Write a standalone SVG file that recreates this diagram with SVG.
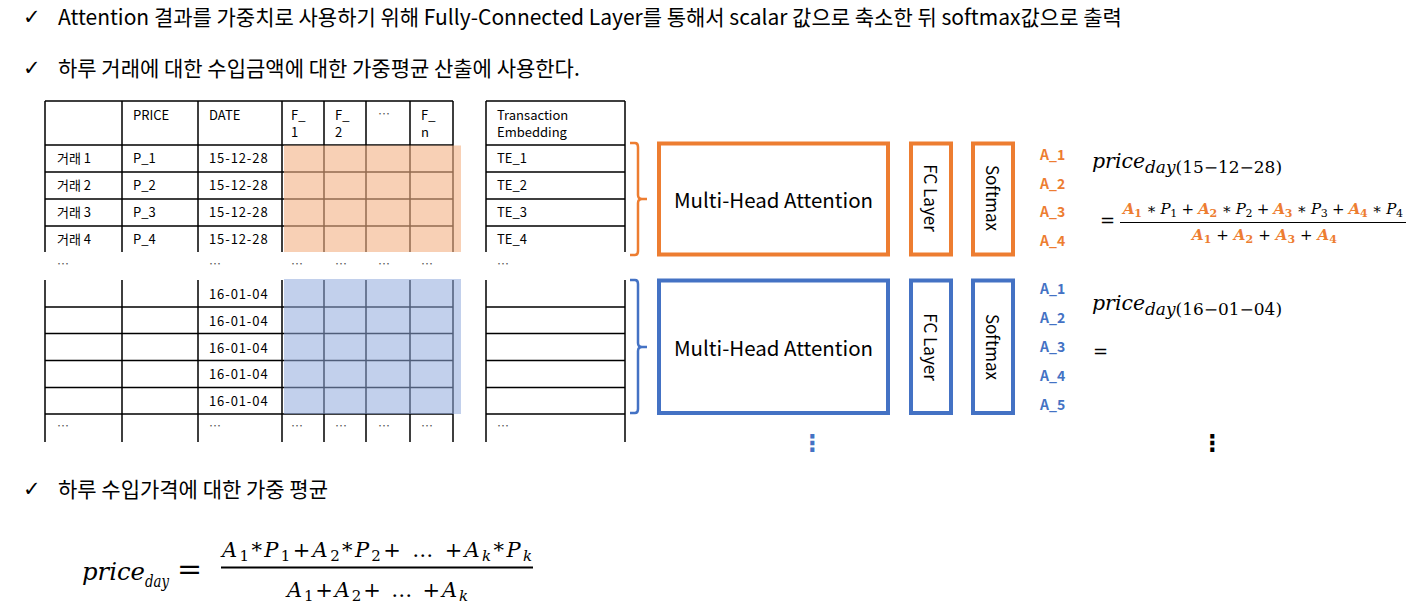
<svg xmlns="http://www.w3.org/2000/svg" width="1410" height="605" viewBox="0 0 1410 605">
<style>
.t{font-family:"Noto Sans CJK KR","Noto Sans",sans-serif;fill:#000}
.h{font-size:21px}
.ck{font-family:"DejaVu Sans",sans-serif;font-size:21px}
.c{font-size:13px}
.dt{letter-spacing:0.9px}
.d{font-size:12px;fill:#555}
.g{stroke:#000;stroke-width:1.5;fill:none}
.ob{fill:none;stroke:#ED7D31;stroke-width:4}
.bb{fill:none;stroke:#4472C4;stroke-width:4}
.lbl{font-size:20.5px;text-anchor:middle;dominant-baseline:central}
.rl{font-size:17px;text-anchor:middle;dominant-baseline:central}
.ao{font-size:14px;font-weight:bold;fill:#ED7D31}
.ab{font-size:14px;font-weight:bold;fill:#4472C4}
.m{font-family:"DejaVu Serif","Liberation Serif",serif;fill:#000}
.i{font-style:italic}
.oA{fill:#ED7D31;font-weight:bold;font-style:italic}
.oS{fill:#ED7D31;font-weight:bold}
</style>
<rect width="1410" height="605" fill="#fff"/>

<g id="header-text">
<text class="ck" x="23" y="24">✓</text>
<text class="t h" x="58" y="24.5">Attention 결과를 가중치로 사용하기 위해 Fully-Connected Layer를 통해서 scalar 값으로 축소한 뒤 softmax값으로 출력</text>
<text class="ck" x="23" y="75">✓</text>
<text class="t h" x="58" y="75.5">하루 거래에 대한 수입금액에 대한 가중평균 산출에 사용한다.</text>
<text class="ck" x="23" y="496">✓</text>
<text class="t h" x="58" y="496.5">하루 수입가격에 대한 가중 평균</text>
</g>

<g id="table-top">
<path class="g" d="M45 101H453M45 145H453M45 172H453M45 199H453M45 226H453M45 101V252M122 101V252M198 101V252M282 101V252M324 101V252M366 101V252M410 101V252M453 101V252"/>
<rect x="284" y="145.5" width="177" height="106.5" fill="#F4B183" opacity="0.6"/>
<g class="t c">
<text x="133" y="120">PRICE</text><text x="209" y="120">DATE</text>
<text x="291" y="119.5">F_</text><text x="291" y="137">1</text>
<text x="335" y="119.5">F_</text><text x="335" y="137">2</text>
<text x="378" y="119" class="d">…</text>
<text x="421" y="119.5">F_</text><text x="421" y="137">n</text>
<text x="57" y="163">거래 1</text><text x="133" y="163">P_1</text><text class="dt" x="209" y="163">15-12-28</text>
<text x="57" y="190">거래 2</text><text x="133" y="190">P_2</text><text class="dt" x="209" y="190">15-12-28</text>
<text x="57" y="217">거래 3</text><text x="133" y="217">P_3</text><text class="dt" x="209" y="217">15-12-28</text>
<text x="57" y="244">거래 4</text><text x="133" y="244">P_4</text><text class="dt" x="209" y="244">15-12-28</text>
</g>
<g class="t d">
<text x="57" y="269">…</text><text x="209" y="269">…</text><text x="291" y="269">…</text><text x="335" y="269">…</text><text x="378" y="269">…</text><text x="421" y="269">…</text>
</g>
</g>

<g id="embedding-top">
<path class="g" d="M486 101H625M486 145H625M486 172H625M486 199H625M486 226H625M486 101V252M625 101V252"/>
<g class="t c">
<text x="497" y="119.5">Transaction</text><text x="497" y="136.5">Embedding</text>
<text x="497" y="163">TE_1</text><text x="497" y="190">TE_2</text><text x="497" y="217">TE_3</text><text x="497" y="244">TE_4</text>
</g>
<text class="t d" x="497" y="269">…</text>
</g>

<g id="table-bottom">
<path class="g" d="M45 307H453M45 333.5H453M45 360.5H453M45 387.5H453M45 414H453M45 280V442M122 280V442M198 280V442M282 280V442M324 280V442M366 280V442M410 280V442M453 280V442"/>
<rect x="284" y="279" width="177" height="135" fill="#8FAADC" opacity="0.55"/>
<g class="t c dt">
<text x="209" y="299">16-01-04</text><text x="209" y="325.5">16-01-04</text><text x="209" y="352.5">16-01-04</text><text x="209" y="379">16-01-04</text><text x="209" y="405.5">16-01-04</text>
</g>
<g class="t d">
<text x="57" y="431">…</text><text x="209" y="431">…</text><text x="291" y="431">…</text><text x="335" y="431">…</text><text x="378" y="431">…</text><text x="421" y="431">…</text>
</g>
</g>

<g id="embedding-bottom">
<path class="g" d="M486 307H625M486 333.5H625M486 360.5H625M486 387.5H625M486 414H625M486 280V442M625 280V442"/>
<text class="t d" x="497" y="431">…</text>
</g>

<g id="connectors">
<path d="M630 143H635Q638 143 638 147V195Q638 199 642 199H647M642 199Q638 199 638 203V251Q638 255 635 255H630" fill="none" stroke="#ED7D31" stroke-width="2.5"/>
<path d="M630 280H635Q638 280 638 284V343Q638 347 642 347H647M642 347Q638 347 638 351V409Q638 413 635 413H630" fill="none" stroke="#4472C4" stroke-width="2.5"/>
</g>

<g id="mha-orange"><rect class="ob" x="659" y="143.5" width="229" height="111"/><text class="t lbl" x="773.5" y="199">Multi-Head Attention</text></g>
<g id="fc-orange"><rect class="ob" x="911" y="143.5" width="40" height="111"/><text class="t rl" x="931" y="198" transform="rotate(90 931 198)">FC Layer</text></g>
<g id="softmax-orange"><rect class="ob" x="973" y="143.5" width="40" height="111"/><text class="t rl" x="993" y="198" transform="rotate(90 993 198)">Softmax</text></g>

<g id="mha-blue"><rect class="bb" x="659" y="280.5" width="229" height="132.5"/><text class="t lbl" x="773.5" y="347">Multi-Head Attention</text></g>
<g id="fc-blue"><rect class="bb" x="911" y="280.5" width="40" height="132.5"/><text class="t rl" x="931" y="347" transform="rotate(90 931 347)">FC Layer</text></g>
<g id="softmax-blue"><rect class="bb" x="973" y="280.5" width="40" height="132.5"/><text class="t rl" x="993" y="347" transform="rotate(90 993 347)">Softmax</text></g>

<g id="weights-orange" class="t">
<text class="ao" x="1040" y="160">A_1</text><text class="ao" x="1040" y="189">A_2</text><text class="ao" x="1040" y="217">A_3</text><text class="ao" x="1040" y="246">A_4</text>
</g>
<g id="weights-blue" class="t">
<text class="ab" x="1040" y="294">A_1</text><text class="ab" x="1040" y="323">A_2</text><text class="ab" x="1040" y="352">A_3</text><text class="ab" x="1040" y="381">A_4</text><text class="ab" x="1040" y="410">A_5</text>
</g>

<g id="formula-orange" class="m">
<text class="i" x="1092" y="168" font-size="20" textLength="53" lengthAdjust="spacingAndGlyphs">price</text>
<text x="1145" y="173" font-size="16" textLength="137" lengthAdjust="spacingAndGlyphs"><tspan class="i">day</tspan>(15−12−28)</text>
<text x="1100" y="227" font-size="18">=</text>
<line x1="1120" y1="222.5" x2="1406" y2="222.5" stroke="#000" stroke-width="1.2"/>
<text x="1123" y="214" font-size="15" textLength="280" lengthAdjust="spacing"><tspan class="oA">A</tspan><tspan class="oS" font-size="11" dy="3">1</tspan><tspan dy="-3"> ∗ </tspan><tspan class="i">P</tspan><tspan font-size="11" dy="3">1</tspan><tspan dy="-3"> + </tspan><tspan class="oA">A</tspan><tspan class="oS" font-size="11" dy="3">2</tspan><tspan dy="-3"> ∗ </tspan><tspan class="i">P</tspan><tspan font-size="11" dy="3">2</tspan><tspan dy="-3"> + </tspan><tspan class="oA">A</tspan><tspan class="oS" font-size="11" dy="3">3</tspan><tspan dy="-3"> ∗ </tspan><tspan class="i">P</tspan><tspan font-size="11" dy="3">3</tspan><tspan dy="-3"> + </tspan><tspan class="oA">A</tspan><tspan class="oS" font-size="11" dy="3">4</tspan><tspan dy="-3"> ∗ </tspan><tspan class="i">P</tspan><tspan font-size="11" dy="3">4</tspan></text>
<text x="1192" y="240" font-size="15" textLength="145" lengthAdjust="spacing"><tspan class="oA">A</tspan><tspan class="oS" font-size="11" dy="3">1</tspan><tspan dy="-3"> + </tspan><tspan class="oA">A</tspan><tspan class="oS" font-size="11" dy="3">2</tspan><tspan dy="-3"> + </tspan><tspan class="oA">A</tspan><tspan class="oS" font-size="11" dy="3">3</tspan><tspan dy="-3"> + </tspan><tspan class="oA">A</tspan><tspan class="oS" font-size="11" dy="3">4</tspan></text>
</g>

<g id="formula-blue" class="m">
<text class="i" x="1092" y="310" font-size="20" textLength="53" lengthAdjust="spacingAndGlyphs">price</text>
<text x="1145" y="315" font-size="16" textLength="137" lengthAdjust="spacingAndGlyphs"><tspan class="i">day</tspan>(16−01−04)</text>
<text x="1093" y="358" font-size="18">=</text>
</g>

<g id="ellipsis">
<text x="812.5" y="451" font-family="DejaVu Sans,sans-serif" font-size="23" font-weight="bold" fill="#4472C4" text-anchor="middle">⋮</text>
<text x="1212.5" y="451" font-family="DejaVu Sans,sans-serif" font-size="23" font-weight="bold" fill="#000" text-anchor="middle">⋮</text>
</g>

<g id="formula-general" class="m">
<text class="i" x="82" y="580" font-size="24" textLength="63" lengthAdjust="spacingAndGlyphs">price</text>
<text class="i" x="145" y="587" font-size="17" textLength="24" lengthAdjust="spacingAndGlyphs">day</text>
<text x="177" y="579" font-size="30">=</text>
<line x1="221" y1="567.5" x2="533" y2="567.5" stroke="#000" stroke-width="2"/>
<text x="222" y="557" font-size="21" textLength="310" lengthAdjust="spacing"><tspan class="i">A</tspan><tspan font-size="15" dy="4">1</tspan><tspan dy="-4">*</tspan><tspan class="i">P</tspan><tspan font-size="15" dy="4">1</tspan><tspan dy="-4">+</tspan><tspan class="i">A</tspan><tspan font-size="15" dy="4">2</tspan><tspan dy="-4">*</tspan><tspan class="i">P</tspan><tspan font-size="15" dy="4">2</tspan><tspan dy="-4">+ … +</tspan><tspan class="i">A</tspan><tspan class="i" font-size="15" dy="4">k</tspan><tspan dy="-4">*</tspan><tspan class="i">P</tspan><tspan class="i" font-size="15" dy="4">k</tspan></text>
<text x="287" y="597" font-size="21" textLength="181" lengthAdjust="spacing"><tspan class="i">A</tspan><tspan font-size="15" dy="4">1</tspan><tspan dy="-4">+</tspan><tspan class="i">A</tspan><tspan font-size="15" dy="4">2</tspan><tspan dy="-4">+ … +</tspan><tspan class="i">A</tspan><tspan class="i" font-size="15" dy="4">k</tspan></text>
</g>
</svg>
